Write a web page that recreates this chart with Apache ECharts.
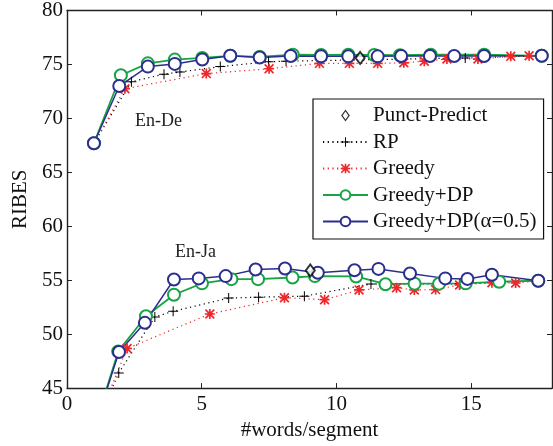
<!DOCTYPE html>
<html><head><meta charset="utf-8">
<script src="https://cdn.jsdelivr.net/npm/echarts@6/dist/echarts.min.js"></script>
<style>html,body{margin:0;padding:0;background:#fff}#c{width:553px;height:446px}</style>
</head><body><div id="c"></div><script>
const xTicks = [0, 5, 10, 15];
const yTicks = [45, 50, 55, 60, 65, 70, 75, 80];
const legendNames = ['Punct-Predict', 'RP', 'Greedy', 'Greedy+DP', 'Greedy+DP(\u03b1=0.5)'];
const groupLabels = ['En-De', 'En-Ja'];

const punctPredict = [[10.88, 75.6], [9.03, 55.9]];

const rpEnDe = [[1, 67.7], [2.39, 73.4], [3.6, 74.1], [4.19, 74.3], [5.69, 74.8], [7.48, 75.25], [8.13, 75.3], [14.78, 75.6], [17.62, 75.8]];
const greedyEnDe = [[1, 67.7], [2.15, 72.75], [5.17, 74.15], [7.5, 74.6], [9.37, 75.1], [10.48, 75.1], [11.53, 75.1], [12.5, 75.15], [13.26, 75.3], [14.1, 75.5], [15.25, 75.5], [16.47, 75.75], [17.15, 75.8], [17.62, 75.8]];
const dpEnDe = [[1, 67.7], [2.0, 74.0], [3.0, 75.1], [4.0, 75.45], [5.02, 75.6], [6.06, 75.8], [7.15, 75.7], [8.38, 75.9], [9.43, 75.88], [10.44, 75.9], [11.4, 75.88], [12.36, 75.85], [13.5, 75.9], [15.48, 75.9], [17.62, 75.8]];
const dpaEnDe = [[1, 67.7], [1.94, 73.0], [3.0, 74.8], [4.0, 75.05], [5.02, 75.45], [6.06, 75.8], [7.15, 75.65], [8.3, 75.78], [9.43, 75.75], [10.44, 75.75], [11.53, 75.75], [12.4, 75.78], [13.47, 75.78], [14.37, 75.78], [15.48, 75.78], [17.62, 75.8]];

const rpEnJa = [[1, 41.2], [1.92, 46.4], [3.26, 51.6], [3.94, 52.12], [6.0, 53.34], [7.11, 53.43], [8.81, 53.52], [11.28, 54.65], [14.58, 54.65], [17.49, 54.95]];
const greedyEnJa = [[1, 41.2], [2.23, 48.67], [5.3, 51.87], [8.07, 53.38], [9.56, 53.19], [10.84, 54.1], [12.23, 54.31], [12.89, 54.1], [13.68, 54.13], [14.57, 54.56], [15.77, 54.77], [16.65, 54.74], [17.49, 54.95]];
const dpEnJa = [[1, 41.2], [1.9, 48.4], [2.93, 51.66], [3.97, 53.65], [5.01, 54.71], [6.1, 55.1], [7.09, 55.1], [8.37, 55.25], [9.2, 55.38], [10.73, 55.35], [11.82, 54.63], [12.9, 54.68], [13.81, 54.68], [14.8, 54.71], [16.04, 54.86], [17.49, 54.95]];
const dpaEnJa = [[1, 41.2], [1.93, 48.35], [2.89, 51.05], [3.97, 55.07], [4.89, 55.17], [5.89, 55.38], [7.0, 56.0], [8.09, 56.08], [9.31, 55.69], [10.67, 55.93], [11.56, 56.05], [12.73, 55.62], [14.04, 55.17], [14.86, 55.12], [15.77, 55.5], [17.49, 54.95]];

const FONT = 'Liberation Serif';
const RED = '#f0262b', GREEN = '#17a346', BLUE = '#2b2e8e';
const plusPath = 'path://M9 0 L11 0 L11 20 L9 20 Z M0 9 L20 9 L20 11 L0 11 Z';
const starPath = 'path://M8.3 0 L11.7 0 L11.7 20 L8.3 20 Z M0 8.3 L20 8.3 L20 11.7 L0 11.7 Z M2.4 0 L20 17.6 L17.6 20 L0 2.4 Z M17.6 0 L20 2.4 L2.4 20 L0 17.6 Z';
const diamondIcon = 'path://M4 0 L8 5.5 L4 11 L0 5.5 Z M4 1.9 L1.4 5.5 L4 9.1 L6.6 5.5 Z';

function rp(data) {
  return { name: legendNames[1], type: 'line', data, symbol: plusPath, symbolSize: 10,
    itemStyle: { color: '#000' }, lineStyle: { color: '#000', width: 1.2, type: [1.2, 3.5] } };
}
function greedy(data) {
  return { name: legendNames[2], type: 'line', data, symbol: starPath, symbolSize: 10,
    itemStyle: { color: RED }, lineStyle: { color: RED, width: 1.2, type: [1.2, 3.5] } };
}
function dp(data) {
  return { name: legendNames[3], type: 'line', data, symbol: 'emptyCircle', symbolSize: 12,
    itemStyle: { color: GREEN, borderWidth: 1.5 }, lineStyle: { color: GREEN, width: 1.8 } };
}
function dpa(data) {
  return { name: legendNames[4], type: 'line', data, symbol: 'emptyCircle', symbolSize: 12,
    itemStyle: { color: BLUE, borderWidth: 1.5 }, lineStyle: { color: BLUE, width: 1.5 } };
}

const chart = echarts.init(document.getElementById('c'));
const axisLine = { show: true, onZero: false, lineStyle: { color: '#222', width: 1.4 } };
chart.setOption({
  animation: false,
  backgroundColor: '#fff',
  textStyle: { fontFamily: FONT },
  grid: { left: 67, right: 1, top: 10, bottom: 53 },
  xAxis: [{
    type: 'value', min: 0, max: 18, interval: 5,
    axisLine, splitLine: { show: false },
    axisTick: { inside: true, length: 5, customValues: xTicks, lineStyle: { color: '#222' } },
    axisLabel: { customValues: xTicks, color: '#111', fontSize: 21, fontFamily: FONT, margin: 6 },
    name: '#words/segment', nameLocation: 'middle', nameGap: 26,
    nameTextStyle: { color: '#111', fontSize: 21, fontFamily: FONT }
  }, {
    type: 'value', min: 0, max: 18, position: 'top',
    axisLine, splitLine: { show: false },
    axisTick: { inside: true, length: 5, customValues: xTicks.slice(1), lineStyle: { color: '#222' } },
    axisLabel: { show: false }
  }],
  yAxis: [{
    type: 'value', min: 45, max: 80, interval: 5,
    axisLine, splitLine: { show: false },
    axisTick: { inside: true, length: 5, customValues: yTicks, lineStyle: { color: '#222' } },
    axisLabel: { customValues: yTicks, color: '#111', fontSize: 21, fontFamily: FONT, margin: 4 },
    name: 'RIBES', nameLocation: 'middle', nameGap: 31,
    nameTextStyle: { color: '#111', fontSize: 21, fontFamily: FONT }
  }, {
    type: 'value', min: 45, max: 80, interval: 5, position: 'right',
    axisLine, splitLine: { show: false },
    axisTick: { inside: true, length: 5, customValues: yTicks.slice(1, -1), lineStyle: { color: '#222' } },
    axisLabel: { show: false }
  }],
  legend: {
    orient: 'vertical', left: 313, top: 99,
    data: [{ name: legendNames[0], icon: diamondIcon }].concat(legendNames.slice(1)),
    backgroundColor: '#fff', borderColor: '#111', borderWidth: 1.2,
    padding: [6, 7, 7, 9],
    itemWidth: 45, itemHeight: 12, itemGap: 5.5,
    textStyle: { color: '#111', fontSize: 21, fontFamily: FONT },
    selectedMode: false
  },
  graphic: [
    { type: 'text', left: 135, top: 112, style: { text: groupLabels[0], font: '18px "Liberation Serif"', fill: '#222' } },
    { type: 'text', left: 175, top: 243, style: { text: groupLabels[1], font: '18px "Liberation Serif"', fill: '#222' } }
  ],
  series: [
    { name: legendNames[0], type: 'scatter', data: punctPredict, symbol: 'emptyDiamond', symbolSize: [9, 12],
      itemStyle: { color: '#000', borderWidth: 1.3 }, z: 5 },
    rp(rpEnDe), rp(rpEnJa),
    greedy(greedyEnDe), greedy(greedyEnJa),
    dp(dpEnDe), dp(dpEnJa),
    dpa(dpaEnDe), dpa(dpaEnJa)
  ]
});
</script></body></html>
